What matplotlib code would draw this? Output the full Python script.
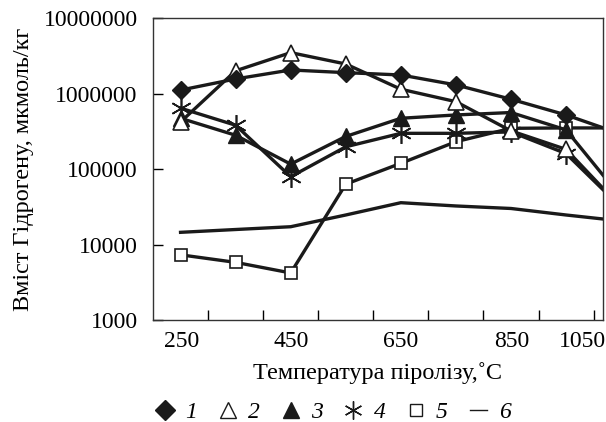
import numpy as np
import matplotlib.pyplot as plt
from matplotlib.lines import Line2D

plt.rcParams['font.family'] = 'serif'
plt.rcParams['font.serif'] = ['Liberation Serif', 'DejaVu Serif']

# temperatures of pyrolysis, C
temps = [250, 350, 450, 550, 650, 750, 850, 950, 1050]

# hydrogen content, mkmol/kg
s1 = [1110000, 1560000, 2050000, 1890000, 1760000, 1300000, 840000, 520000, 290000]
s2 = [420000, 2000000, 3480000, 2460000, 1140000, 780000, 320000, 182000, 31000]
s3 = [470000, 280000, 116000, 270000, 470000, 520000, 560000, 330000, 42000]
s4 = [640000, 380000, 79000, 197000, 297000, 297000, 310000, 160000, 31000]
s5 = [7300, 5800, 4200, 63000, 119000, 230000, 346000, 350000, 350000]
s6 = [14500, 15800, 17200, 24600, 35800, 32400, 30000, 24600, 20500]

yticks = [1000, 10000, 100000, 1000000, 10000000]
xlabels = ['250', '450', '650', '850', '1050']
xlabel_pos = [252, 450, 650, 852, 979]


def main():
	fig = plt.figure(figsize=(6.06, 4.22), dpi=100)
	ax = fig.add_axes([0.2525, 0.2417, 0.7425, 0.7156])

	lw = 2.4
	c = '#1a1a1a'
	ax.plot(temps, s6, color=c, lw=lw)
	ax.plot(temps, s5, color=c, lw=lw, marker='s', ms=9, mfc='white', mec=c, mew=1.2)
	ax.plot(temps, s4, color=c, lw=lw, marker=(6, 2, 0), ms=15, mew=1.2, mec=c)
	ax.plot(temps, s3, color=c, lw=lw, marker='^', ms=11, mfc=c, mec=c)
	ax.plot(temps, s2, color=c, lw=lw, marker='^', ms=12, mfc='white', mec=c, mew=1.2)
	ax.plot(temps, s1, color=c, lw=lw, marker='D', ms=9, mfc=c, mec=c)

	ax.set_yscale('log')
	ax.set_ylim(1000, 10000000)
	ax.set_xlim(200, 1017)
	ax.set_yticks(yticks)
	ax.set_yticklabels([str(v) for v in yticks])
	ax.yaxis.set_minor_locator(plt.NullLocator())
	ax.tick_params(axis='y', direction='in', length=7, width=1, labelsize=17, pad=11)

	ax.set_xticks(xlabel_pos)
	ax.set_xticklabels(xlabels)
	ax.set_xticks(np.arange(300, 1001, 100), minor=True)
	ax.tick_params(axis='x', which='major', length=0, labelsize=17, pad=8)
	ax.tick_params(axis='x', which='minor', direction='in', length=7, width=1)

	for sp in ax.spines.values():
		sp.set_color('#333333')
		sp.set_linewidth(1)

	ax.set_xlabel('Температура піролізу,˚С', fontsize=17.5)
	ax.xaxis.set_label_coords(0.5, -0.14)
	ax.set_ylabel('Вміст Гідрогену, мкмоль/кг', fontsize=17.5)
	ax.yaxis.set_label_coords(-0.265, 0.5)

	# legend: markers only, line for series 6
	handles = [
		Line2D([], [], ls='none', marker='D', ms=10, color=c),
		Line2D([], [], ls='none', marker='^', ms=11, mfc='white', mec=c),
		Line2D([], [], ls='none', marker='^', ms=11, color=c),
		Line2D([], [], ls='none', marker=(6, 2, 0), ms=13, color=c),
		Line2D([], [], ls='none', marker='s', ms=8, mfc='white', mec=c),
		Line2D([], [], color=c, lw=1),
	]
	names = ['1', '2', '3', '4', '5', '6']
	fig.legend(handles, names, loc='center', bbox_to_anchor=(0.551, 0.022), ncol=6,
		frameon=False, handlelength=0.7, handletextpad=0.5, columnspacing=0.95,
		borderpad=0, prop={'style': 'italic', 'size': 17})

	plt.savefig('out.png', dpi=100)


if __name__ == '__main__':
	main()
